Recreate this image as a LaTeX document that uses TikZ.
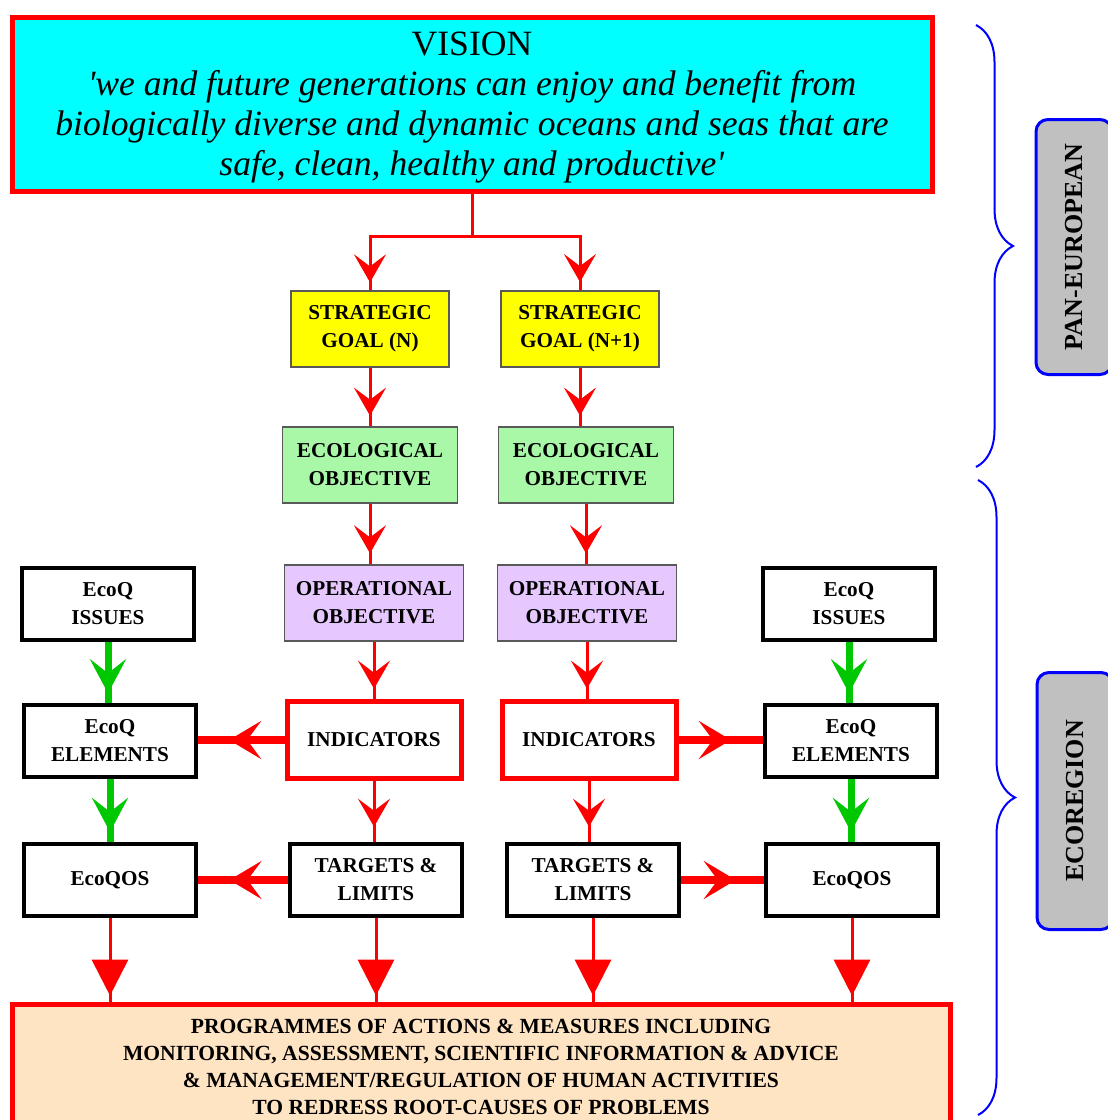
\documentclass[tikz,border=0pt]{standalone}
\usepackage{fontspec}
\setmainfont{Liberation Serif}
\usetikzlibrary{arrows.meta,decorations.markings,decorations.pathreplacing}

\definecolor{visioncyan}{HTML}{00FFFF}
\definecolor{goalyellow}{HTML}{FFFF00}
\definecolor{objgreen}{HTML}{A8F8A8}
\definecolor{oplilac}{HTML}{E6C8FF}
\definecolor{progpeach}{HTML}{FFE4C4}
\definecolor{tabgray}{HTML}{C0C0C0}
\definecolor{issuegreen}{HTML}{00C800}

\begin{document}
\begin{tikzpicture}[x=0.5pt, y=-0.5pt,
	boxtext/.style={font=\bfseries\fontsize{10.6}{14}\selectfont, align=center, inner sep=0pt},
	thinbox/.style={boxtext, draw=black!65, line width=0.8pt, minimum width=87.5pt, minimum height=38pt},
	thickbox/.style={boxtext, draw=black, line width=2pt, fill=white, minimum width=86pt, minimum height=36pt},
	redbox/.style={boxtext, draw=red, line width=2.5pt, fill=white, minimum width=87pt, minimum height=38.5pt},
	tab/.style={draw=blue, line width=1.5pt, fill=tabgray, rounded corners=6pt, rotate=90,
		font=\bfseries\fontsize{13}{15}\selectfont, inner sep=0pt},
	flow/.style={red, line width=1.5pt, postaction={decorate}, decoration={markings,
		mark=at position #1 with {\arrow{Stealth[length=14pt,width=16pt,inset=6pt]}}}},
	bigflow/.style={red, line width=4pt, postaction={decorate}, decoration={markings,
		mark=at position #1 with {\arrow{Stealth[length=16pt,width=19pt,inset=7pt]}}}},
	greenflow/.style={issuegreen, line width=3.5pt, postaction={decorate}, decoration={markings,
		mark=at position #1 with {\arrow{Stealth[length=17pt,width=18pt,inset=7pt]}}}},
	dropflow/.style={red, line width=1.5pt, postaction={decorate}, decoration={markings,
		mark=at position #1 with {\arrow{Triangle[length=18pt,width=18pt]}}}},
	bracket/.style={blue, line width=1pt, decorate, decoration={brace, amplitude=18.5pt}}]

	\path[use as bounding box, clip] (0,0) rectangle (1108,1120);

	% vision
	\node[draw=red, line width=2.5pt, fill=visioncyan, minimum width=460pt, minimum height=87pt,
		align=center, inner sep=0pt, font=\fontsize{17.8}{20}\selectfont] (vision) at (472,104)
		{\rule{0pt}{15.5pt}VISION\\
		\textit{\textquotesingle we and future generations can enjoy and benefit from}\\
		\textit{biologically diverse and dynamic oceans and seas that are}\\
		\textit{safe, clean, healthy and productive\textquotesingle}};

	% the two strands
	\node[thinbox, fill=goalyellow, minimum width=79pt] (goalN) at (370,329) {STRATEGIC\\GOAL (N)};
	\node[thinbox, fill=goalyellow, minimum width=79pt] (goalN1) at (580,329) {STRATEGIC\\GOAL (N+1)};
	\node[thinbox, fill=objgreen] (ecoN) at (370,465) {ECOLOGICAL\\OBJECTIVE};
	\node[thinbox, fill=objgreen] (ecoN1) at (586,465) {ECOLOGICAL\\OBJECTIVE};
	\node[thinbox, fill=oplilac, minimum width=89.5pt] (opN) at (374,603) {OPERATIONAL\\OBJECTIVE};
	\node[thinbox, fill=oplilac, minimum width=89.5pt] (opN1) at (587,603) {OPERATIONAL\\OBJECTIVE};
	\node[redbox] (indN) at (374,740) {INDICATORS};
	\node[redbox] (indN1) at (589,740) {INDICATORS};
	\node[thickbox] (tarN) at (376,880) {TARGETS \&\\LIMITS};
	\node[thickbox] (tarN1) at (593,880) {TARGETS \&\\LIMITS};

	% EcoQ columns
	\node[thickbox] (issL) at (108,604) {EcoQ\\ISSUES};
	\node[thickbox] (issR) at (849,604) {EcoQ\\ISSUES};
	\node[thickbox] (elemL) at (110,741) {EcoQ\\ELEMENTS};
	\node[thickbox] (elemR) at (851,741) {EcoQ\\ELEMENTS};
	\node[thickbox] (qosL) at (110,880) {EcoQOS};
	\node[thickbox] (qosR) at (852,880) {EcoQOS};

	\node[draw=red, line width=2.5pt, fill=progpeach, minimum width=469pt, minimum height=63pt,
		boxtext, font=\bfseries\fontsize{10.8}{13.5}\selectfont] (prog) at (481,1067)
		{PROGRAMMES OF ACTIONS \& MEASURES INCLUDING\\
		MONITORING, ASSESSMENT, SCIENTIFIC INFORMATION \& ADVICE\\
		\& MANAGEMENT/REGULATION OF HUMAN ACTIVITIES\\
		TO REDRESS ROOT-CAUSES OF PROBLEMS};

	% vision to goals
	\coordinate (split) at (472,236);
	\draw[red, line width=1.5pt] (vision.south) -- (split);
	\draw[flow=0.95] (split) -| (goalN.north);
	\draw[flow=0.95] (split) -| (goalN1.north);

	% down each strand
	\foreach \a/\b in {goalN/ecoN, goalN1/ecoN1, ecoN/opN, ecoN1/opN1, opN/indN, opN1/indN1}
		\draw[flow=0.82] (\a.south) -- (\a.south |- \b.north);
	\draw[flow=0.75] (indN.south) -- (indN.south |- tarN.north);
	\draw[flow=0.75] (indN1.south) -- (indN1.south |- tarN1.north);

	% sideways to EcoQ
	\draw[bigflow=0.64] (indN.west) -- (elemL.east |- indN.west);
	\draw[bigflow=0.62] (indN1.east) -- (elemR.west |- indN1.east);
	\draw[bigflow=0.65] (tarN.west) -- (qosL.east |- tarN.west);
	\draw[bigflow=0.66] (tarN1.east) -- (qosR.west |- tarN1.east);

	\foreach \a/\b in {issL/elemL, issR/elemR, elemL/qosL, elemR/qosR}
		\draw[greenflow=0.84] (\a.south) -- (\a.south |- \b.north);

	% into the programmes
	\foreach \a in {qosL, tarN, tarN1, qosR}
		\draw[dropflow=0.93] (\a.south) -- (\a.south |- prog.north);

	% scales
	\draw[bracket] (976,25) -- (976,467);
	\draw[bracket] (978,480) -- (978,1115);
	\node[tab, minimum width=127.5pt, minimum height=38pt] (paneu) at (1074,247) {PAN-EUROPEAN};
	\node[tab, minimum width=128.5pt, minimum height=38pt] (ecoreg) at (1075,801) {ECOREGION};
\end{tikzpicture}
\end{document}
